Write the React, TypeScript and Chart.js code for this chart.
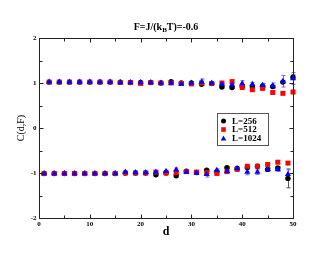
import React, { useEffect, useRef } from "react";
import { Chart, registerables } from "chart.js";
Chart.register(...registerables);

const dUpper = [2, 4, 6, 8, 10, 12, 14, 16, 18, 20, 22, 24, 26, 28, 30, 32, 34, 36, 38, 40, 42, 44, 46, 48, 50];
const dLower = [1, 3, 5, 7, 9, 11, 13, 15, 17, 19, 21, 23, 25, 27, 29, 31, 33, 35, 37, 39, 41, 43, 45, 47, 49];

const L256Upper = [1.02, 1.02, 1.02, 1.02, 1.02, 1.02, 1.02, 1.02, 1.01, 1.01, 1.01, 1.0, 1.03, 1.0, 1.0, 0.97, 0.99, 0.91, 0.9, 0.93, 0.92, 0.93, 0.92, 1.02, 1.13];
const L512Upper = [1.02, 1.02, 1.02, 1.02, 1.02, 1.02, 1.02, 1.01, 1.01, 0.99, 1.01, 1.0, 1.0, 0.99, 0.98, 1.0, 0.99, 1.0, 1.03, 0.9, 0.85, 0.88, 0.79, 0.77, 0.8];
const L1024Upper = [1.02, 1.02, 1.02, 1.02, 1.02, 1.02, 1.02, 1.01, 1.01, 1.01, 1.01, 1.0, 1.0, 0.98, 1.0, 1.02, 1.0, 0.97, 0.96, 0.99, 0.97, 0.95, 0.94, 1.04, 1.1];

const L256Lower = [-1.01, -1.01, -1.01, -1.01, -1.01, -1.01, -1.01, -1.01, -1.0, -1.0, -1.0, -1.04, -1.0, -1.06, -0.96, -0.99, -0.94, -0.97, -0.88, -0.9, -0.88, -0.85, -0.92, -0.89, -1.12];
const L512Lower = [-1.01, -1.01, -1.01, -1.01, -1.01, -1.01, -1.01, -1.01, -1.0, -1.0, -1.0, -0.98, -1.0, -0.99, -0.97, -0.98, -0.99, -1.01, -0.97, -0.92, -0.85, -0.85, -0.81, -0.76, -0.78];
const L1024Lower = [-1.01, -1.01, -1.01, -1.01, -1.01, -1.01, -1.01, -1.01, -0.98, -0.99, -0.99, -0.98, -0.96, -0.93, -0.98, -1.0, -1.03, -0.94, -0.96, -0.9, -0.98, -0.98, -0.92, -0.92, -1.03];

const L256UpperErr = [0, 0, 0, 0, 0, 0, 0, 0, 0, 0, 0, 0, 0.02, 0, 0, 0.02, 0, 0.02, 0.02, 0.02, 0.02, 0.02, 0.02, 0.03, 0.05];
const L512UpperErr = [0, 0, 0, 0, 0, 0, 0, 0, 0, 0, 0, 0, 0, 0, 0.02, 0, 0, 0.02, 0.05, 0.03, 0.02, 0.02, 0.03, 0.02, 0.03];
const L1024UpperErr = [0, 0, 0, 0, 0, 0, 0, 0, 0, 0, 0, 0, 0, 0.02, 0.02, 0.07, 0.02, 0.03, 0.05, 0.06, 0.04, 0.04, 0.06, 0.13, 0.13];
const L256LowerErr = [0, 0, 0, 0, 0, 0, 0, 0, 0, 0, 0, 0.02, 0.02, 0.03, 0.02, 0.02, 0.02, 0.02, 0.02, 0.02, 0.02, 0.02, 0.03, 0.03, 0.21];
const L512LowerErr = [0, 0, 0, 0, 0, 0, 0, 0, 0, 0, 0, 0, 0, 0.02, 0.02, 0.02, 0.02, 0.02, 0.02, 0.02, 0.02, 0.02, 0.02, 0.03, 0.03];
const L1024LowerErr = [0, 0, 0, 0, 0, 0, 0, 0, 0, 0, 0.02, 0.02, 0.02, 0.04, 0.02, 0.02, 0.06, 0.03, 0.03, 0.03, 0.06, 0.05, 0.03, 0.04, 0.1];

const seriesLabels = ["L=256", "L=512", "L=1024"];
const xMajorTicks = [0, 10, 20, 30, 40, 50];
const xMinorTicks = [5, 15, 25, 35, 45];
const yMajorTicks = [-2, -1, 0, 1, 2];
const yMinorTicks = [-1.5, -0.5, 0.5, 1.5];

const SERIF = '"Liberation Serif", "DejaVu Serif", serif';

function pts(xu: number[], yu: number[], xl: number[], yl: number[]) {
  return [...xu.map((x, i) => ({ x, y: yu[i] })), ...xl.map((x, i) => ({ x, y: yl[i] }))];
}

const errorBarPlugin = {
  id: "errorBars",
  beforeDatasetsDraw(chart: any) {
    const { ctx } = chart;
    const xs = chart.scales.x;
    const ys = chart.scales.y;
    chart.data.datasets.forEach((ds: any) => {
      ctx.save();
      ctx.strokeStyle = ds.errColor;
      ctx.lineWidth = 1;
      ds.data.forEach((p: any, j: number) => {
        const e = ds.errors[j];
        if (!e) return;
        const px = Math.round(xs.getPixelForValue(p.x)) + 0.5;
        const y1 = ys.getPixelForValue(p.y - e);
        const y2 = ys.getPixelForValue(p.y + e);
        ctx.beginPath();
        ctx.moveTo(px, y1);
        ctx.lineTo(px, y2);
        ctx.moveTo(px - 2, y1);
        ctx.lineTo(px + 2, y1);
        ctx.moveTo(px - 2, y2);
        ctx.lineTo(px + 2, y2);
        ctx.stroke();
      });
      ctx.restore();
    });
  },
};

const axesPlugin = {
  id: "axesDecor",
  afterDraw(chart: any) {
    const { ctx, chartArea: a } = chart;
    const xs = chart.scales.x;
    const ys = chart.scales.y;
    ctx.save();
    ctx.strokeStyle = "#222";
    ctx.lineWidth = 1;
    const L = Math.round(a.left) + 0.5;
    const R = Math.round(a.right) + 0.5;
    const T = Math.round(a.top) + 0.5;
    const B = Math.round(a.bottom) + 0.5;
    ctx.strokeRect(L, T, R - L, B - T);
    ctx.beginPath();
    const tickX = (v: number, len: number) => {
      const px = Math.round(xs.getPixelForValue(v)) + 0.5;
      ctx.moveTo(px, B);
      ctx.lineTo(px, B - len);
      ctx.moveTo(px, T);
      ctx.lineTo(px, T + len);
    };
    const tickY = (v: number, len: number) => {
      const py = Math.round(ys.getPixelForValue(v)) + 0.5;
      ctx.moveTo(L, py);
      ctx.lineTo(L + len, py);
      ctx.moveTo(R, py);
      ctx.lineTo(R - len, py);
    };
    xMajorTicks.forEach((v) => tickX(v, 4));
    xMinorTicks.forEach((v) => tickX(v, 3));
    yMajorTicks.forEach((v) => tickY(v, 4));
    yMinorTicks.forEach((v) => tickY(v, 3));
    ctx.stroke();

    ctx.fillStyle = "#000";
    ctx.font = `bold 7px ${SERIF}`;
    ctx.textAlign = "center";
    ctx.textBaseline = "top";
    xMajorTicks.forEach((v) => ctx.fillText(String(v), xs.getPixelForValue(v), B + 2));
    ctx.textAlign = "right";
    ctx.textBaseline = "middle";
    yMajorTicks.forEach((v) => ctx.fillText(String(v), L - 3, ys.getPixelForValue(v)));

    ctx.font = `bold 12px ${SERIF}`;
    ctx.textAlign = "center";
    ctx.textBaseline = "alphabetic";
    ctx.fillText("d", (a.left + a.right) / 2, 235);

    ctx.save();
    ctx.translate(21, (a.top + a.bottom) / 2);
    ctx.rotate(-Math.PI / 2);
    ctx.font = `10px ${SERIF}`;
    ctx.textAlign = "center";
    ctx.textBaseline = "middle";
    ctx.fillText("C(d,F)", 0, 0);
    ctx.restore();

    const big = `bold 10px ${SERIF}`;
    const small = `bold 7px ${SERIF}`;
    const p1 = "F=J/(k";
    const p2 = "B";
    const p3 = "T)=-0.6";
    ctx.font = big;
    const w1 = ctx.measureText(p1).width;
    const w3 = ctx.measureText(p3).width;
    ctx.font = small;
    const w2 = ctx.measureText(p2).width;
    const total = w1 + w2 + w3;
    let sx = (a.left + a.right) / 2 - total / 2;
    const by = 30;
    ctx.textAlign = "left";
    ctx.textBaseline = "alphabetic";
    ctx.font = big;
    ctx.fillText(p1, sx, by);
    sx += w1;
    ctx.font = small;
    ctx.fillText(p2, sx, by + 2);
    sx += w2;
    ctx.font = big;
    ctx.fillText(p3, sx, by);

    ctx.fillStyle = "#fff";
    ctx.fillRect(217, 113, 51, 32);
    ctx.strokeStyle = "#555";
    ctx.strokeRect(217.5, 113.5, 51, 32);
    const rows = [121, 129.5, 138.5];
    chart.data.datasets.forEach((ds: any, i: number) => {
      const y = rows[i];
      ctx.fillStyle = ds.backgroundColor;
      ctx.beginPath();
      if (ds.pointStyle === "circle") {
        ctx.arc(223.5, y, 2.5, 0, Math.PI * 2);
      } else if (ds.pointStyle === "rect") {
        ctx.rect(221.2, y - 2.3, 4.6, 4.6);
      } else {
        ctx.moveTo(223.5, y - 3);
        ctx.lineTo(226.3, y + 2);
        ctx.lineTo(220.7, y + 2);
        ctx.closePath();
      }
      ctx.fill();
      ctx.fillStyle = "#000";
      ctx.font = `bold 9px ${SERIF}`;
      ctx.textAlign = "left";
      ctx.textBaseline = "middle";
      ctx.fillText(ds.label, 232, y + 0.5);
    });
    ctx.restore();
  },
};

export default function App() {
  const ref = useRef<HTMLCanvasElement | null>(null);
  useEffect(() => {
    if (!ref.current) return;
    const mk = (label: string, color: string, errColor: string, style: string, radius: number, data: any[], errors: number[], order: number) => ({
      label,
      data,
      errors,
      errColor,
      backgroundColor: color,
      borderColor: color,
      borderWidth: 0,
      pointStyle: style,
      pointRadius: radius,
      showLine: false,
      clip: false,
      order,
    });
    const chart = new Chart(ref.current, {
      type: "scatter",
      data: {
        datasets: [
          mk(seriesLabels[0], "#000000", "#555555", "circle", 2.7, pts(dUpper, L256Upper, dLower, L256Lower), [...L256UpperErr, ...L256LowerErr], 2),
          mk(seriesLabels[1], "#ff0000", "#ff6666", "rect", 3.5, pts(dUpper, L512Upper, dLower, L512Lower), [...L512UpperErr, ...L512LowerErr], 1),
          mk(seriesLabels[2], "#0000ff", "#6666ff", "triangle", 3.5, pts(dUpper, L1024Upper, dLower, L1024Lower), [...L1024UpperErr, ...L1024LowerErr], 0),
        ] as any,
      },
      options: {
        animation: false,
        responsive: false,
        layout: { padding: { left: 39, right: 37, top: 38, bottom: 37 } },
        scales: {
          x: { type: "linear", min: 0, max: 50, display: false },
          y: { type: "linear", min: -2, max: 2, display: false },
        },
        plugins: { legend: { display: false }, tooltip: { enabled: false }, title: { display: false } },
      },
      plugins: [errorBarPlugin, axesPlugin],
    } as any);
    return () => chart.destroy();
  }, []);
  return (
    <div style={{ position: "absolute", left: 0, top: 0, width: 330, height: 255, background: "#fff" }}>
      <canvas ref={ref} width={330} height={255} style={{ width: 330, height: 255 }} />
    </div>
  );
}
